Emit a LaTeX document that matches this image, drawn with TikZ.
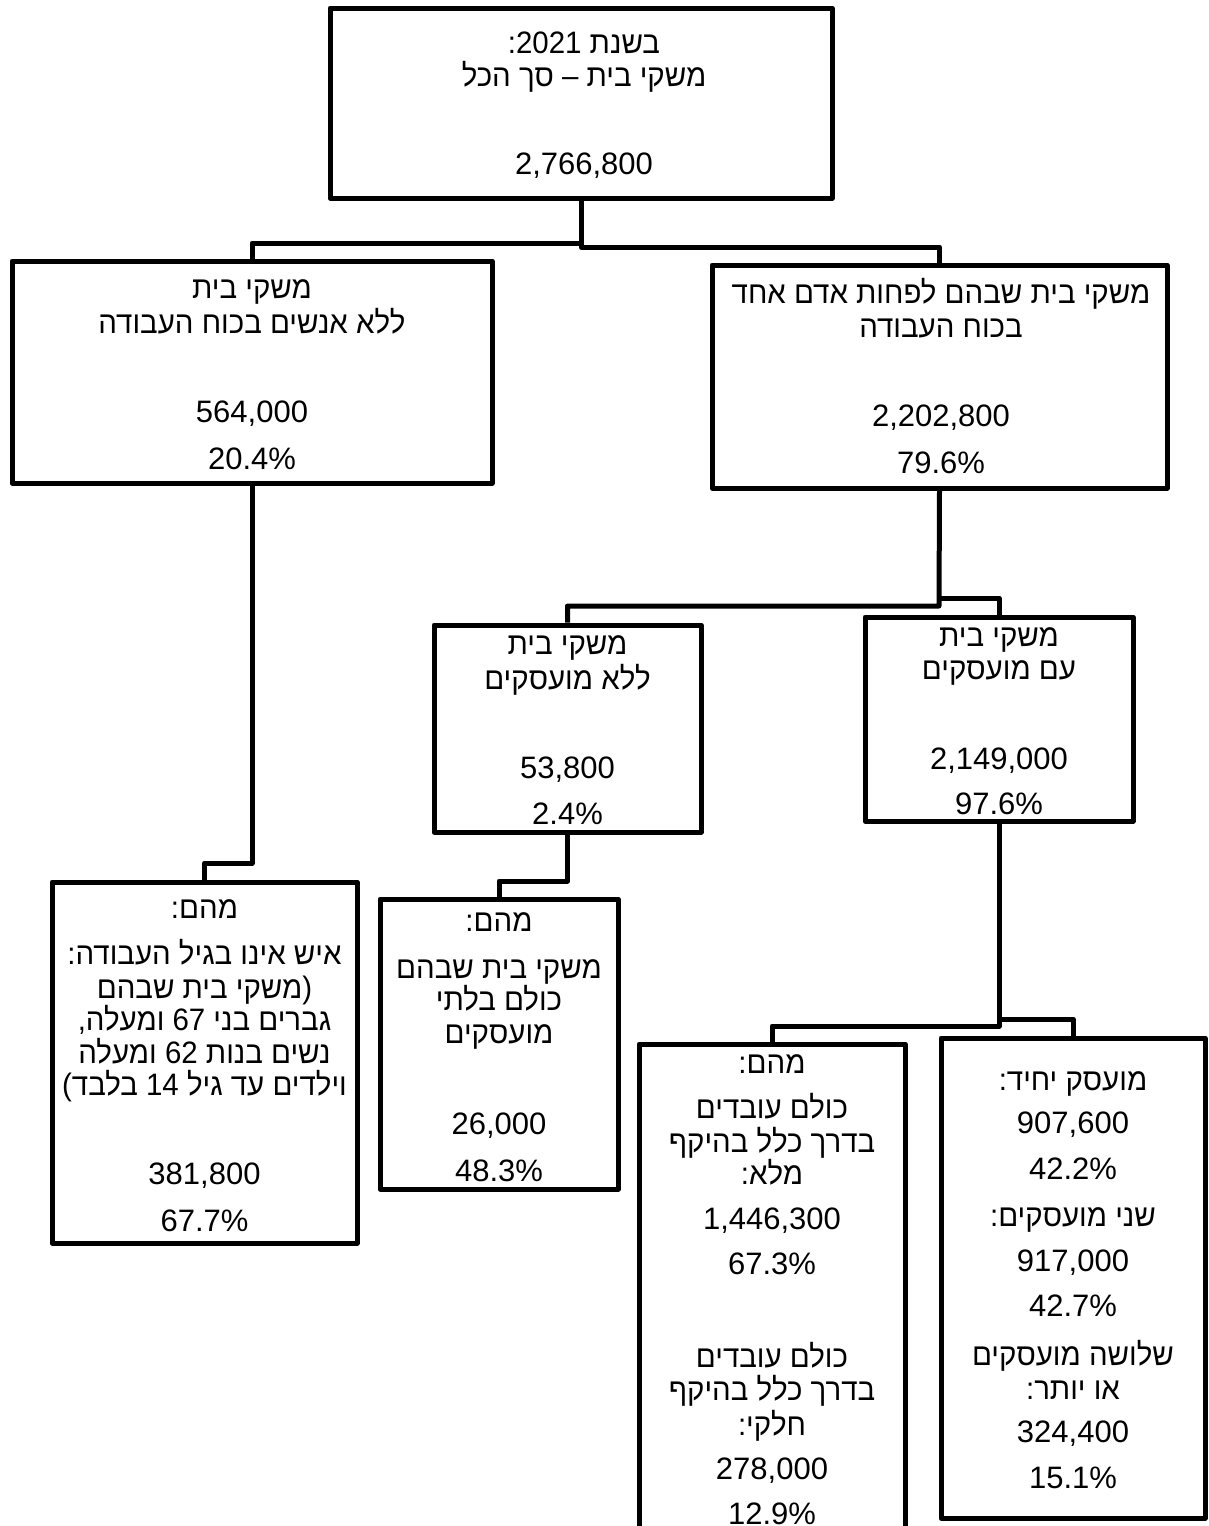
\documentclass[tikz,border=0pt]{standalone}
\usepackage{fontspec}
\setmainfont{Liberation Sans}
\newfontfamily\heb[Script=Hebrew,FakeStretch=0.95]{Liberation Sans}
\TeXXeTstate=1
\newcommand{\RL}[1]{{\heb\beginR #1\endR}}
\begin{document}
\begin{tikzpicture}[x=1pt,y=-1pt,
  box/.style={draw=black,line width=5pt,rectangle,inner sep=0pt,line join=round},
  txt/.style={inner sep=0pt,text height=22pt,text depth=0pt,font=\fontsize{31}{34}\selectfont},
  conn/.style={draw=black,line width=5pt,line join=round}]
\useasboundingbox (0,0) rectangle (1208,1526);
\clip (0,0) rectangle (1208,1526);
\fill[white] (0,0) rectangle (1208,1526);
% boxes
\node[box,minimum width=502pt,minimum height=190pt] (top) at (581,103) {};
\node[box,minimum width=480pt,minimum height=222pt] (L) at (252,372) {};
\node[box,minimum width=455pt,minimum height=223pt] (R) at (939.5,376.5) {};
\node[box,minimum width=267pt,minimum height=207pt] (ML) at (567.5,728.5) {};
\node[box,minimum width=268pt,minimum height=204pt] (MR) at (999,719) {};
\node[box,minimum width=305pt,minimum height=361pt] (BL) at (204.5,1062.5) {};
\node[box,minimum width=238pt,minimum height=290pt] (BC) at (499,1044) {};
\node[box,minimum width=266pt,minimum height=516pt] (BM) at (772,1302) {};
\node[box,minimum width=264pt,minimum height=480pt] (BR) at (1073,1278) {};
% junctions
\coordinate (j1) at (581,243);
\coordinate (j2) at (581,247);
\coordinate (j3) at (939,606);
\coordinate (j4) at (939,598);
\coordinate (j5) at (252,863);
\coordinate (j6) at (567.5,881);
\coordinate (j7) at (999,1026);
\coordinate (j8) at (999,1019);
% connectors
\draw[conn] (top.south) -- (j2) -| (R.north);
\draw[conn] (j1) -| (L.north);
\draw[conn] (R.south) -- (j3) -| (ML.north);
\draw[conn] (j4) -| (MR.north);
\draw[conn] (L.south) -- (j5) -| (BL.north);
\draw[conn] (ML.south) -- (j6) -| (BC.north);
\draw[conn] (MR.south) -- (j7) -| (BM.north);
\draw[conn] (j8) -| (BR.north);
% top texts
\node[txt] (t1) at (584,42) {\RL{בשנת \beginL 2021\endL\kern0pt :}};
\node[txt] (t2) at (584,75) {\RL{משקי בית – סך הכל}};
\node[txt] (t3) at (584,163) {2,766,800};
% L
\node[txt] (l1) at (252,287) {\RL{משקי בית}};
\node[txt] (l2) at (252,322) {\RL{ללא אנשים בכוח העבודה}};
\node[txt] (l3) at (252,411) {564,000};
\node[txt] (l4) at (252,458) {20.4\%};
% R
\node[txt] (r1) at (941,292) {\RL{משקי בית שבהם לפחות אדם אחד}};
\node[txt] (r2) at (941,326) {\RL{בכוח העבודה}};
\node[txt] (r3) at (941,415) {2,202,800};
\node[txt] (r4) at (941,462) {79.6\%};
% ML
\node[txt] (ml1) at (567.5,643) {\RL{משקי בית}};
\node[txt] (ml2) at (567.5,678) {\RL{ללא מועסקים}};
\node[txt] (ml3) at (567.5,767) {53,800};
\node[txt] (ml4) at (567.5,813) {2.4\%};
% MR
\node[txt] (mr1) at (999,635) {\RL{משקי בית}};
\node[txt] (mr2) at (999,668) {\RL{עם מועסקים}};
\node[txt] (mr3) at (999,758) {2,149,000};
\node[txt] (mr4) at (999,803) {97.6\%};
% BL
\node[txt] (bl1) at (204.5,907) {\RL{מהם:}};
\node[txt] (bl2) at (204.5,953) {\RL{איש אינו בגיל העבודה:}};
\node[txt] (bl3) at (204.5,987) {\RL{(משקי בית שבהם}};
\node[txt] (bl4) at (204.5,1019) {\RL{גברים בני 67 ומעלה,}};
\node[txt] (bl5) at (204.5,1052) {\RL{נשים בנות 62 ומעלה}};
\node[txt] (bl6) at (204.5,1084) {\RL{וילדים עד גיל 14 בלבד)}};
\node[txt] (bl7) at (204.5,1173) {381,800};
\node[txt] (bl8) at (204.5,1220) {67.7\%};
% BC
\node[txt] (bc1) at (499,920) {\RL{מהם:}};
\node[txt] (bc2) at (499,967) {\RL{משקי בית שבהם}};
\node[txt] (bc3) at (499,999) {\RL{כולם בלתי}};
\node[txt] (bc4) at (499,1032) {\RL{מועסקים}};
\node[txt] (bc5) at (499,1123) {26,000};
\node[txt] (bc6) at (499,1170) {48.3\%};
% BM
\node[txt] (bm1) at (772,1062) {\RL{מהם:}};
\node[txt] (bm2) at (772,1107) {\RL{כולם עובדים}};
\node[txt] (bm3) at (772,1141) {\RL{בדרך כלל בהיקף}};
\node[txt] (bm4) at (772,1173) {\RL{מלא:}};
\node[txt] (bm5) at (772,1218) {1,446,300};
\node[txt] (bm6) at (772,1263) {67.3\%};
\node[txt] (bm7) at (772,1356) {\RL{כולם עובדים}};
\node[txt] (bm8) at (772,1389) {\RL{בדרך כלל בהיקף}};
\node[txt] (bm9) at (772,1424) {\RL{חלקי:}};
\node[txt] (bm10) at (772,1468) {278,000};
\node[txt] (bm11) at (772,1513) {12.9\%};
% BR
\node[txt] (br1) at (1073,1079) {\RL{מועסק יחיד:}};
\node[txt] (br2) at (1073,1122) {907,600};
\node[txt] (br3) at (1073,1168) {42.2\%};
\node[txt] (br4) at (1073,1215) {\RL{שני מועסקים:}};
\node[txt] (br5) at (1073,1260) {917,000};
\node[txt] (br6) at (1073,1305) {42.7\%};
\node[txt] (br7) at (1073,1354) {\RL{שלושה מועסקים}};
\node[txt] (br8) at (1073,1388) {\RL{או יותר:}};
\node[txt] (br9) at (1073,1431) {324,400};
\node[txt] (br10) at (1073,1477) {15.1\%};
\end{tikzpicture}
\end{document}
